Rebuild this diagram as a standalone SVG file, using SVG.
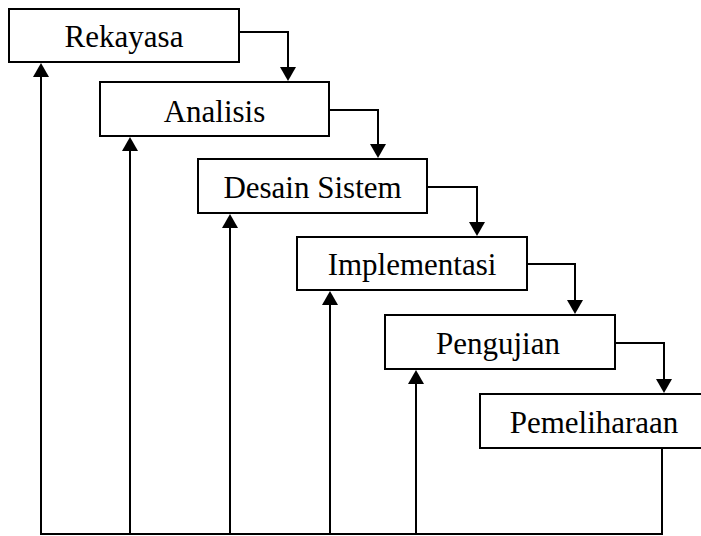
<svg xmlns="http://www.w3.org/2000/svg" width="701" height="536" viewBox="0 0 701 536">
  <style>
    .box { fill: #ffffff; stroke: #000000; stroke-width: 2; }
    .label { font-family: "Liberation Serif", "Times New Roman", serif; font-size: 31px; fill: #000000; text-anchor: middle; }
    .link { fill: none; stroke: #000000; stroke-width: 2; }
    .arrow { marker-end: url(#head); }
  </style>
  <defs>
    <marker id="head" viewBox="0 0 14 16" refX="10" refY="8" markerWidth="14" markerHeight="16" markerUnits="userSpaceOnUse" orient="auto">
      <path d="M0,0 L14,8 L0,16 Z" fill="#000000"/>
    </marker>
  </defs>
  <rect width="701" height="536" fill="#ffffff"/>

  <!-- waterfall stages -->
  <g id="rekayasa">
    <rect class="box" x="9" y="9" width="230" height="53"/>
    <text class="label" x="124" y="47">Rekayasa</text>
  </g>
  <g id="analisis">
    <rect class="box" x="100" y="82" width="229" height="54"/>
    <text class="label" x="214.5" y="122">Analisis</text>
  </g>
  <g id="desain-sistem">
    <rect class="box" x="198" y="159" width="229" height="54"/>
    <text class="label" x="312.5" y="198">Desain Sistem</text>
  </g>
  <g id="implementasi">
    <rect class="box" x="297" y="237" width="230" height="53"/>
    <text class="label" x="412" y="275">Implementasi</text>
  </g>
  <g id="pengujian">
    <rect class="box" x="385" y="315" width="230" height="54"/>
    <text class="label" x="498" y="354">Pengujian</text>
  </g>
  <g id="pemeliharaan">
    <rect class="box" x="480" y="394" width="228" height="54"/>
    <text class="label" x="594" y="433">Pemeliharaan</text>
  </g>

  <!-- connectors -->
  <g id="connectors">
    <!-- forward steps -->
    <path class="link arrow" d="M239,32 H288 V77"/>
    <path class="link arrow" d="M329,110 H378 V154"/>
    <path class="link arrow" d="M427,187 H477 V232"/>
    <path class="link arrow" d="M527,264 H575 V310"/>
    <path class="link arrow" d="M615,343 H664 V389"/>
    <!-- feedback bus -->
    <path class="link" d="M662,448 V534 H40"/>
    <path class="link arrow" d="M41,535 V67"/>
    <path class="link arrow" d="M130,535 V141"/>
    <path class="link arrow" d="M230,535 V218"/>
    <path class="link arrow" d="M330,535 V295"/>
    <path class="link arrow" d="M416,535 V374"/>
  </g>
</svg>
